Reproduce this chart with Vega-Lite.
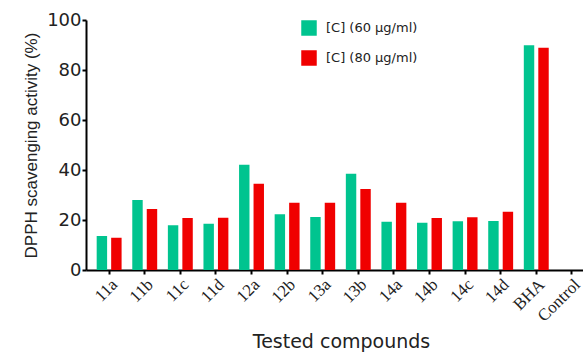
{
  "$schema": "https://vega.github.io/schema/vega-lite/v6.json",
  "autosize": "none",
  "width": 497,
  "height": 250,
  "padding": {"left": 86, "top": 20, "right": 0, "bottom": 84},
  "background": "white",
  "config": {"view": {"stroke": null}},
  "data": {"values": [
    {"compound": "11a", "conc": "[C] (60 μg/ml)", "value": 13.6},
    {"compound": "11a", "conc": "[C] (80 μg/ml)", "value": 12.9},
    {"compound": "11b", "conc": "[C] (60 μg/ml)", "value": 28.0},
    {"compound": "11b", "conc": "[C] (80 μg/ml)", "value": 24.4},
    {"compound": "11c", "conc": "[C] (60 μg/ml)", "value": 17.9},
    {"compound": "11c", "conc": "[C] (80 μg/ml)", "value": 20.8},
    {"compound": "11d", "conc": "[C] (60 μg/ml)", "value": 18.5},
    {"compound": "11d", "conc": "[C] (80 μg/ml)", "value": 20.9},
    {"compound": "12a", "conc": "[C] (60 μg/ml)", "value": 42.1},
    {"compound": "12a", "conc": "[C] (80 μg/ml)", "value": 34.5},
    {"compound": "12b", "conc": "[C] (60 μg/ml)", "value": 22.3},
    {"compound": "12b", "conc": "[C] (80 μg/ml)", "value": 26.9},
    {"compound": "13a", "conc": "[C] (60 μg/ml)", "value": 21.2},
    {"compound": "13a", "conc": "[C] (80 μg/ml)", "value": 26.9},
    {"compound": "13b", "conc": "[C] (60 μg/ml)", "value": 38.5},
    {"compound": "13b", "conc": "[C] (80 μg/ml)", "value": 32.4},
    {"compound": "14a", "conc": "[C] (60 μg/ml)", "value": 19.3},
    {"compound": "14a", "conc": "[C] (80 μg/ml)", "value": 26.9},
    {"compound": "14b", "conc": "[C] (60 μg/ml)", "value": 18.9},
    {"compound": "14b", "conc": "[C] (80 μg/ml)", "value": 20.8},
    {"compound": "14c", "conc": "[C] (60 μg/ml)", "value": 19.5},
    {"compound": "14c", "conc": "[C] (80 μg/ml)", "value": 21.1},
    {"compound": "14d", "conc": "[C] (60 μg/ml)", "value": 19.6},
    {"compound": "14d", "conc": "[C] (80 μg/ml)", "value": 23.3},
    {"compound": "BHA", "conc": "[C] (60 μg/ml)", "value": 89.9},
    {"compound": "BHA", "conc": "[C] (80 μg/ml)", "value": 88.9},
    {"compound": "Control", "conc": "[C] (60 μg/ml)", "value": 0},
    {"compound": "Control", "conc": "[C] (80 μg/ml)", "value": 0}
  ]},
  "mark": {"type": "bar"},
  "encoding": {
    "x": {
      "field": "compound", "type": "nominal", "sort": null,
      "scale": {"range": [0, 509], "paddingInner": 0.3, "paddingOuter": 0.3},
      "axis": {
        "title": "Tested compounds",
        "titleFont": "DejaVu Sans", "titleFontSize": 19, "titleFontWeight": "normal", "titleColor": "#222",
        "titleY": 77, "titleBaseline": "alphabetic", "titleX": 255,
        "labelAngle": -45, "labelAlign": "right", "labelBaseline": "top",
        "labelFont": "Liberation Serif", "labelFontSize": 17, "labelColor": "#222", "labelPadding": 2,
        "domainColor": "#000", "domainWidth": 2,
        "tickColor": "#000", "tickWidth": 2, "tickSize": 4,
        "grid": false
      }
    },
    "xOffset": {"field": "conc", "type": "nominal", "scale": {"paddingInner": 0.28}},
    "y": {
      "field": "value", "type": "quantitative",
      "scale": {"domain": [0, 100], "nice": false},
      "axis": {
        "title": "DPPH scavenging activity (%)",
        "titleFont": "Liberation Sans", "titleFontSize": 17, "titleFontWeight": "normal", "titleColor": "#222",
        "titlePadding": 6,
        "values": [0, 20, 40, 60, 80, 100],
        "labelFont": "DejaVu Sans", "labelFontSize": 18, "labelColor": "#222", "labelPadding": 1,
        "domainColor": "#000", "domainWidth": 2,
        "tickColor": "#000", "tickWidth": 2, "tickSize": 4,
        "grid": false
      }
    },
    "color": {
      "field": "conc", "type": "nominal",
      "scale": {"range": ["#00c48f", "#f00000"]},
      "legend": {
        "title": null, "orient": "none", "legendX": 215, "legendY": 0,
        "symbolType": "square", "symbolSize": 240, "symbolStrokeWidth": 0,
        "labelFont": "DejaVu Sans", "labelFontSize": 13, "labelColor": "#222",
        "labelOffset": 9, "rowPadding": 14
      }
    }
  }
}
